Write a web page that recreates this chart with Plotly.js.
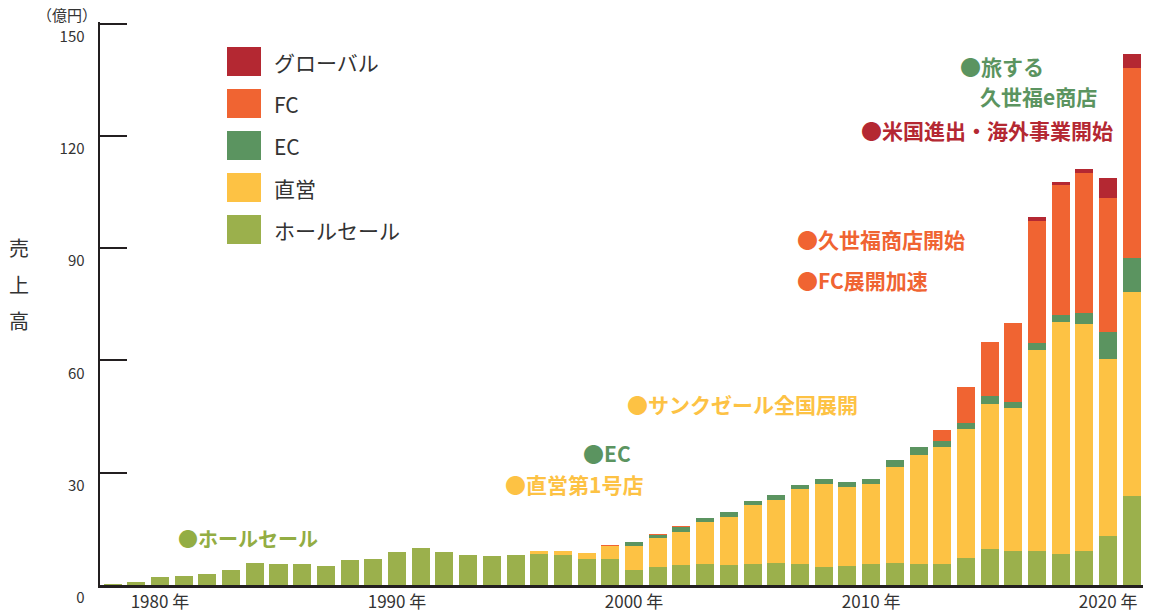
<!DOCTYPE html>
<html>
<head>
<meta charset="utf-8">
<script src="https://cdn.plot.ly/plotly-3.0.1.min.js"></script>
<style>
  html, body { margin: 0; padding: 0; background: #ffffff; }
  #chart { width: 1150px; height: 614px; }
</style>
</head>
<body>
<div id="chart"></div>
<script>
// ---------- data ----------
const years = [1978,1979,1980,1981,1982,1983,1984,1985,1986,1987,1988,1989,1990,1991,1992,1993,1994,1995,1996,1997,1998,1999,2000,2001,2002,2003,2004,2005,2006,2007,2008,2009,2010,2011,2012,2013,2014,2015,2016,2017,2018,2019,2020,2021];

const wholesale = [0.3,0.9,2.1,2.5,3.0,3.9,6.0,5.5,5.5,5.2,6.6,7.0,8.7,9.8,8.7,7.9,7.7,8.0,8.2,8.0,6.9,6.9,4.0,4.8,5.3,5.6,5.3,5.6,5.8,5.6,4.8,5.0,5.5,6.0,5.5,5.5,7.1,9.5,9.2,9.0,8.4,9.0,13.0,23.7];

const direct = [0,0,0,0,0,0,0,0,0,0,0,0,0,0,0,0,0,0,0.8,1.0,1.6,3.5,6.4,7.7,8.8,11.2,12.8,15.7,16.9,20.0,22.1,21.1,21.4,25.4,29.1,31.3,34.7,38.8,38.0,53.7,61.8,60.7,47.3,54.5];

const ec = [0,0,0,0,0,0,0,0,0,0,0,0,0,0,0,0,0,0,0,0,0,0,1.0,0.8,1.4,1.1,1.4,1.1,1.3,1.1,1.3,1.3,1.3,1.9,2.2,1.6,1.6,2.1,1.6,1.9,1.9,2.9,7.2,9.1];

const fc = [0,0,0,0,0,0,0,0,0,0,0,0,0,0,0,0,0,0,0.2,0,0,0.2,0,0.25,0.35,0,0,0,0,0,0,0,0,0,0,2.9,9.4,14.4,21.1,32.6,34.7,37.4,35.8,50.8];

const globalBiz = [0,0,0,0,0,0,0,0,0,0,0,0,0,0,0,0,0,0,0,0,0,0,0,0,0,0,0,0,0,0,0,0,0,0,0,0,0,0,0,1.1,0.8,1.1,5.4,3.7];

const seriesNames = ["ホールセール","直営","EC","FC","グローバル"];
const xTickVals = [1980,1990,2000,2010,2020];
const xTickText = ["1980 年","1990 年","2000 年","2010 年","2020 年"];
const yTickVals = [0,30,60,90,120,150];
const yTickText = ["0","30","60","90","120","150"];
const yUnit = "（億円）";
const yTitleChars = ["売","上","高"];

const milestoneTexts = ["●ホールセール","●直営第1号店","●EC","●サンクゼール全国展開","●久世福商店開始","●FC展開加速","●米国進出・海外事業開始","●旅する","久世福e商店"];
const milestoneSeries = [0,1,2,1,3,3,4,2,2];   // colour follows the series index

// ---------- styling / placement ----------
const colors = ["#9BB04C","#FDC244","#5B9460","#F06432","#B42832"];
const textColors = ["#93AD43","#FDC244","#5B9460","#F06432","#B42832"];
const milestonePos = [[176,538,20],[503,484,21],[581,453,21],[625,404,21],[795,239,21],[795,280,21],[859,130,21],[958,66,21],[978,96,21]];
const FONT = "'Noto Sans CJK JP', 'Noto Sans', sans-serif";
const W = 1150, H = 614;
const M = {l:100, r:7, t:22, b:29};
const PW = W - M.l - M.r, PH = H - M.t - M.b;
const xp = px => (px - M.l) / PW;
const yp = py => (H - M.b - py) / PH;

const allSeries = [wholesale, direct, ec, fc, globalBiz];
const traces = allSeries.map((vals, i) => ({
  type: "bar",
  x: years,
  y: vals,
  name: seriesNames[i],
  marker: {color: colors[i], line: {width: 0}},
  hoverinfo: "skip",
  showlegend: false
}));

const shapes = [];
const annotations = [];

// custom legend (top to bottom: グローバル, FC, EC, 直営, ホールセール)
const legendOrder = [4,3,2,1,0];
legendOrder.forEach((si, k) => {
  const top = 47 + k * 42;
  shapes.push({
    type: "rect", xref: "paper", yref: "paper",
    x0: xp(227), x1: xp(261), y0: yp(top + 29), y1: yp(top),
    fillcolor: colors[si], line: {width: 0}
  });
  annotations.push({
    xref: "paper", yref: "paper", x: xp(272), y: yp(top + 15),
    xanchor: "left", yanchor: "middle", showarrow: false,
    text: seriesNames[si],
    font: {family: FONT, size: 21, color: "#333333"}
  });
});

// milestones
milestoneTexts.forEach((t, i) => {
  const p = milestonePos[i];
  annotations.push({
    xref: "paper", yref: "paper", x: xp(p[0]), y: yp(p[1]),
    xanchor: "left", yanchor: "middle", showarrow: false,
    text: "<b>" + t + "</b>",
    font: {family: FONT, size: p[2], color: textColors[milestoneSeries[i]]}
  });
});

// y-axis title (vertical characters)
yTitleChars.forEach((ch, k) => {
  annotations.push({
    xref: "paper", yref: "paper", x: xp(19), y: yp(248 + k * 36),
    xanchor: "center", yanchor: "middle", showarrow: false,
    text: ch, font: {family: FONT, size: 20, color: "#333333"}
  });
});
// unit
annotations.push({
  xref: "paper", yref: "paper", x: xp(67), y: yp(14),
  xanchor: "center", yanchor: "middle", showarrow: false,
  text: yUnit, font: {family: FONT, size: 15, color: "#333333"}
});

const layout = {
  width: W, height: H,
  margin: M,
  paper_bgcolor: "#ffffff",
  plot_bgcolor: "#ffffff",
  barmode: "stack",
  bargap: 0.24,
  showlegend: false,
  font: {family: FONT, color: "#333333"},
  xaxis: {
    range: [1977.47, 2021.47],
    tickmode: "array", tickvals: xTickVals, ticktext: xTickText,
    ticks: "", showgrid: false, zeroline: false,
    showline: true, linecolor: "#231F20", linewidth: 2.6,
    tickfont: {family: FONT, size: 17, color: "#333333"},
    fixedrange: true
  },
  yaxis: {
    range: [0, 150.4],
    tickmode: "array", tickvals: yTickVals, ticktext: yTickText,
    ticks: "inside", ticklen: 27, tickwidth: 2, tickcolor: "#231F20",
    showgrid: false, zeroline: false,
    showline: true, linecolor: "#231F20", linewidth: 2.4,
    tickfont: {family: FONT, size: 15, color: "#333333"},
    ticklabelshift: 13,
    ticklabelstandoff: 10,
    fixedrange: true
  },
  shapes: shapes,
  annotations: annotations
};

Plotly.newPlot("chart", traces, layout, {displayModeBar: false, staticPlot: true});
</script>
</body>
</html>
